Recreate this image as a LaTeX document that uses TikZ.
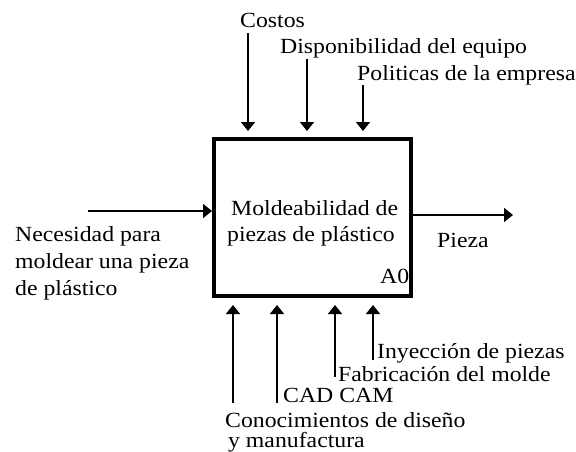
\documentclass[tikz,border=0pt]{standalone}
\usepackage{fontspec}
\setmainfont{Liberation Serif}[FakeStretch=1.1]
\usetikzlibrary{arrows.meta}
\begin{document}
\begin{tikzpicture}[x=1pt,y=-1pt,
  lbl/.style={inner sep=0pt,anchor=base west,font=\fontsize{21.6}{24}\selectfont},
  arr/.style={line width=1.6pt,-{Triangle[length=9pt,width=14pt]}},
  actbox/.style={draw,line width=4pt,minimum width=197pt,minimum height=157pt,inner sep=0pt}]
\useasboundingbox (0,0) rectangle (576,451);
% box
\node[actbox] (box) at (312.5,217.5) {};
\node[lbl] (t1) at (231,215) {Moldeabilidad de};
\node[lbl] (t2) at (227,241) {piezas de plástico};
\node[lbl] (a0) at (380,283) {A0};
% top controls
\node[lbl] (c1) at (240,27) {Costos};
\node[lbl] (c2) at (280,53) {Disponibilidad del equipo};
\node[lbl] (c3) at (357,80) {Politicas de la empresa};
\coordinate (c1s) at (248,33);
\coordinate (c2s) at (307,59);
\coordinate (c3s) at (363,85);
\coordinate (c1e) at (248,131);
\coordinate (c2e) at (307,131);
\coordinate (c3e) at (363,131);
\draw[arr] (c1s) -- (c1e);
\draw[arr] (c2s) -- (c2e);
\draw[arr] (c3s) -- (c3e);
% input
\node[lbl] (i1) at (15,241) {Necesidad para};
\node[lbl] (i2) at (15,268) {moldear una pieza};
\node[lbl] (i3) at (15,295) {de plástico};
\coordinate (is) at (88,211);
\draw[arr] (is) -- (box.west |- is);
% output
\node[lbl] (o1) at (437,247) {Pieza};
\coordinate (oe) at (513,215);
\draw[arr] (box.east |- oe) -- (oe);
% mechanisms
\node[lbl] (m4) at (377,358) {Inyección de piezas};
\node[lbl] (m3) at (338,381) {Fabricación del molde};
\node[lbl] (m2) at (283,402) {CAD CAM};
\node[lbl] (m1) at (225,427) {Conocimientos de diseño};
\node[lbl] (m1b) at (228,447) {y manufactura};
\coordinate (m1s) at (233,403);
\coordinate (m2s) at (277,403);
\coordinate (m3s) at (335,377);
\coordinate (m4s) at (373,360);
\coordinate (m1e) at (233,305);
\coordinate (m2e) at (277,305);
\coordinate (m3e) at (335,305);
\coordinate (m4e) at (373,305);
\draw[arr] (m1s) -- (m1e);
\draw[arr] (m2s) -- (m2e);
\draw[arr] (m3s) -- (m3e);
\draw[arr] (m4s) -- (m4e);
\end{tikzpicture}
\end{document}
